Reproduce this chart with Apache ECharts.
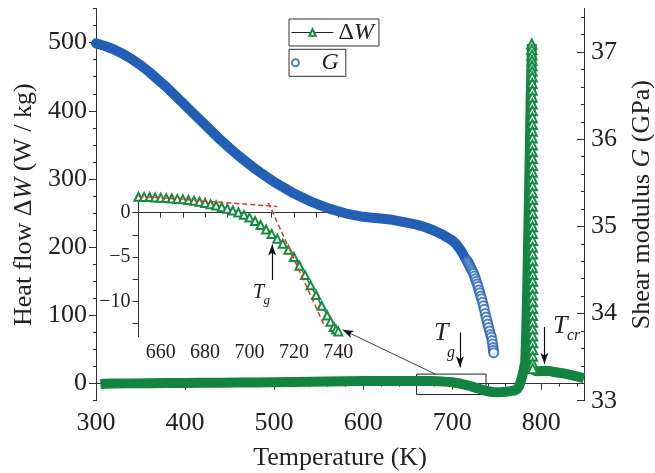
<!DOCTYPE html>
<html>
<head>
<meta charset="utf-8">
<title>Heat flow and shear modulus</title>
<script src="https://cdn.jsdelivr.net/npm/echarts@6/dist/echarts.min.js"></script>
<style>
  html, body { margin: 0; padding: 0; background: #fff; }
  #chart { width: 655px; height: 473px; }
</style>
</head>
<body>
<div id="chart"></div>
<script>
// heat flow ΔW (W/kg) before the crystallisation peak
const preTemp = [305, 310, 320, 340, 360, 380, 400, 420, 440, 460, 480, 500, 520, 540, 560, 580, 600, 620, 640, 660,
  675, 685, 695, 700, 705, 710, 715, 720, 725, 730, 735, 740, 745, 750, 755, 760, 765, 770, 773, 775.5,
  778, 780, 782, 783, 784, 785, 786, 787, 788, 789, 789.4];
const preVal = [-0.5, 0, 0.2, 0.4, 0.6, 0.8, 1.0, 1.2, 1.4, 1.6, 1.8, 2.0, 2.3, 2.6, 3.2, 3.5, 3.8, 4.0, 4.0, 4.0,
  3.8, 3.4, 2.6, 2.0, 1.0, -0.2, -1.8, -3.5, -5.5, -7.5, -9.5, -11.2, -12.3, -12.5, -12.3, -11.8, -11.0, -10.0, -8, -3,
  8, 18, 32, 70, 125, 190, 260, 330, 410, 465, 498];

// the peak itself: points stacked at almost constant temperature
const peakTemp = [789.4, 789.5, 789.6, 789.7, 789.7, 789.8, 789.8, 789.8, 789.9, 789.9, 789.9, 790.0, 790.0, 790.0, 790.0, 790.0,
  790.0, 790.0, 790.1, 790.1, 790.1, 790.1, 790.1, 790.1, 790.1, 790.1, 790.2, 790.2, 790.2, 790.2, 790.2, 790.2,
  790.2, 790.2, 790.2, 790.3, 790.3, 790.3, 790.3, 790.3, 790.3, 790.3, 790.3, 790.3, 790.4, 790.4, 790.4, 790.4, 790.4, 790.4];
const peakVal = [498, 490, 482, 474, 466, 458, 450, 440, 430, 420, 410, 400, 390, 380, 370, 360,
  350, 340, 330, 320, 310, 300, 290, 280, 270, 260, 250, 240, 230, 220, 210, 200,
  190, 180, 170, 160, 150, 140, 130, 120, 110, 100, 90, 80, 70, 60, 50, 40, 30, 22];

// after the peak
const postTemp = [790.5, 795, 800, 805, 810, 815, 820, 825, 830, 835, 840, 845, 848];
const postVal = [20, 18, 18.5, 19, 18.5, 17, 16, 15, 13.5, 12, 10.5, 9, 8];

// shear modulus G (GPa)
const gTemp = [300, 310, 320, 330, 340, 350, 360, 370, 380, 390, 400, 410, 420, 430, 440, 450, 460, 470, 480, 490,
  500, 510, 520, 530, 540, 550, 560, 570, 580, 590, 600, 610, 620, 630, 640, 650, 660, 670, 680, 690,
  700, 705, 710, 715, 716, 717, 718, 719, 720, 721, 722, 723, 724, 725, 726, 727, 728, 729, 730, 731,
  732, 733, 734, 735, 736, 737, 738, 739, 740, 741, 742, 743, 744, 744.7, 745.3, 745.8, 746.2, 746.6];
const gVal = [37.10, 37.07, 37.03, 36.98, 36.92, 36.85, 36.77, 36.68, 36.59, 36.49, 36.39, 36.29, 36.19, 36.09, 35.99, 35.90, 35.81, 35.73, 35.65, 35.58,
  35.51, 35.45, 35.39, 35.34, 35.29, 35.25, 35.21, 35.18, 35.15, 35.13, 35.11, 35.10, 35.09, 35.08, 35.06, 35.04, 35.02, 34.99, 34.95, 34.90,
  34.84, 34.79, 34.72, 34.63, 34.62, 34.60, 34.58, 34.56, 34.54, 34.52, 34.50, 34.48, 34.46, 34.43, 34.40, 34.37, 34.34, 34.31, 34.27, 34.24,
  34.20, 34.17, 34.13, 34.09, 34.05, 34.00, 33.96, 33.92, 33.88, 33.84, 33.80, 33.76, 33.73, 33.69, 33.65, 33.61, 33.58, 33.55];

// inset: glass transition region
const insetTemp = [650, 652.5, 655, 657.5, 660, 662.5, 665, 667.5, 670, 672.5, 675, 677.5, 680, 682.5, 685, 687.5, 690, 692.5, 695, 697.5,
  700, 702.5, 705, 707.5, 710, 712.5, 715, 717.5, 720, 722.5, 725, 727.5, 730, 732.5, 735, 736.5, 738, 739, 740];
const insetVal = [1.8, 1.78, 1.76, 1.72, 1.68, 1.64, 1.60, 1.55, 1.50, 1.42, 1.34, 1.23, 1.10, 0.95, 0.80, 0.62, 0.45, 0.25, 0.02, -0.25,
  -0.56, -0.95, -1.4, -1.9, -2.4, -2.95, -3.5, -4.2, -5.0, -6.0, -7.05, -8.2, -9.3, -10.5, -11.6, -12.3, -12.9, -13.2, -13.4];
// two tangent lines (red dashes)
const fitATemp = [650, 712.5];
const fitAVal = [1.86, 0.7];
const fitBTemp = [708.5, 734];
const fitBVal = [1.1, -12.9];

// ticks
const xTicks = [300, 400, 500, 600, 700, 800];
const xMinor = [320, 340, 360, 380, 420, 440, 460, 480, 520, 540, 560, 580, 620, 640, 660, 680, 720, 740, 760, 780, 820, 840];
const yTicks = [0, 100, 200, 300, 400, 500];
const yMinor = [-25, 25, 50, 75, 125, 150, 175, 225, 250, 275, 325, 350, 375, 425, 450, 475, 525, 550];
const gTicks = [33, 34, 35, 36, 37];
const gMinor = [33.2, 33.4, 33.6, 33.8, 34.2, 34.4, 34.6, 34.8, 35.2, 35.4, 35.6, 35.8, 36.2, 36.4, 36.6, 36.8, 37.2, 37.4];
const insetXTicks = [660, 680, 700, 720, 740];
const insetXMinor = [650, 670, 690, 710, 730];
const insetYTicks = [-10, -5, 0];
const insetYMinor = [-12.5, -7.5, -2.5];

const pairs = (xs, ys) => xs.map((x, i) => [x, ys[i]]);

const FONT = 'Liberation Serif';
const INK = '#222';
const GREEN = '#12843f';
const GREEN_SYM = '#178b42';
const BLUE = '#2360b5';
const RED = '#e5352b';

const txt = (size, extra) => Object.assign({ fontFamily: FONT, fontSize: size, color: INK }, extra || {});
const minus = v => String(v).replace('-', '\u2212');
const axisLine = { show: true, lineStyle: { color: '#333', width: 1 } };

// overlay axis that only draws the short ticks
const minorAxis = extra => Object.assign({
  type: 'value',
  axisLine: { show: false },
  axisLabel: { show: false },
  splitLine: { show: false }
}, extra);

const chart = echarts.init(document.getElementById('chart'));

const option = {
  animation: false,
  backgroundColor: '#fff',
  grid: [
    { left: 96, right: 71, top: 8.5, bottom: 72.3, outerBoundsMode: 'none', containLabel: false },
    { left: 138.5, top: 196.7, width: 199.8, height: 140, outerBoundsMode: 'none', containLabel: false }
  ],
  legend: [
    {
      data: ['ΔW'], left: 289, top: 19, orient: 'vertical', selectedMode: false,
      borderColor: '#333', borderWidth: 1, padding: [1, 5, 1, 2],
      itemWidth: 42, itemHeight: 8,
      lineStyle: { color: '#222', width: 1 },
      formatter: () => '{n|Δ}{i|W}',
      textStyle: txt(24, { lineHeight: 25, rich: { n: txt(24), i: txt(24, { fontStyle: 'italic' }) } })
    },
    {
      data: ['G'], left: 289, top: 49.3, orient: 'vertical', selectedMode: false,
      borderColor: '#333', borderWidth: 1, padding: [1, 7, 1, 2],
      itemWidth: 42, itemHeight: 7,
      formatter: () => '{i|G}',
      textStyle: txt(24, { lineHeight: 25, rich: { i: txt(24, { fontStyle: 'italic' }) } })
    }
  ],
  xAxis: [
    {
      type: 'value', gridIndex: 0, position: 'bottom', min: 300, max: 848,
      axisLine: axisLine,
      axisTick: { show: true, customValues: xTicks, length: 6, lineStyle: { color: '#333' } },
      axisLabel: { customValues: xTicks, margin: 9, ...txt(26) },
      splitLine: { show: false },
      name: 'Temperature (K)', nameLocation: 'middle', nameGap: 44,
      nameTextStyle: txt(26)
    },
    minorAxis({ gridIndex: 0, position: 'bottom', min: 300, max: 848,
      axisTick: { show: true, customValues: xMinor, length: 3, lineStyle: { color: '#333' } } }),
    {
      type: 'value', gridIndex: 1, position: 'bottom', min: 650, max: 740,
      axisLine: axisLine,
      axisTick: { show: true, customValues: insetXTicks.concat(insetXMinor), length: 5, lineStyle: { color: '#333' } },
      axisLabel: { customValues: insetXTicks, margin: 6, ...txt(20) },
      splitLine: { show: false }
    }
  ],
  yAxis: [
    {
      type: 'value', gridIndex: 0, position: 'left', min: -25, max: 550,
      axisLine: axisLine,
      axisTick: { show: true, customValues: yTicks, length: 7, lineStyle: { color: '#333' } },
      axisLabel: { customValues: yTicks, margin: 9, ...txt(26) },
      splitLine: { show: false },
      name: '{a|Heat flow Δ}{b|W}{a| (W / kg)}', nameLocation: 'middle', nameGap: 59, nameRotate: 90,
      nameTextStyle: txt(26, { rich: { a: txt(26), b: txt(26, { fontStyle: 'italic' }) } })
    },
    {
      type: 'value', gridIndex: 0, position: 'right', min: 33, max: 37.5,
      axisLine: axisLine,
      axisTick: { show: true, inside: true, customValues: gTicks, length: 7, lineStyle: { color: '#333' } },
      axisLabel: { customValues: gTicks, margin: 7, ...txt(26) },
      splitLine: { show: false },
      name: '{a|Shear modulus }{b|G}{a| (GPa)}', nameLocation: 'middle', nameGap: 45, nameRotate: 90,
      nameTextStyle: txt(26, { rich: { a: txt(26), b: txt(26, { fontStyle: 'italic' }) } })
    },
    minorAxis({ gridIndex: 0, position: 'left', min: -25, max: 550,
      axisTick: { show: true, customValues: yMinor, length: 3, lineStyle: { color: '#333' } } }),
    minorAxis({ gridIndex: 0, position: 'right', min: 33, max: 37.5,
      axisTick: { show: true, inside: true, customValues: gMinor, length: 3, lineStyle: { color: '#333' } } }),
    {
      type: 'value', gridIndex: 1, position: 'left', min: -14, max: 1.8,
      axisLine: axisLine,
      axisTick: { show: true, customValues: insetYTicks.concat(insetYMinor), length: 6, lineStyle: { color: '#333' } },
      axisLabel: { customValues: insetYTicks, margin: 8, formatter: minus, ...txt(20) },
      splitLine: { show: false }
    }
  ],
  series: [
    // peak points first so the legend takes its triangle
    {
      name: 'ΔW', type: 'line', xAxisIndex: 0, yAxisIndex: 0, z: 4,
      data: pairs(peakTemp, peakVal),
      symbol: 'emptyTriangle', symbolSize: 9,
      itemStyle: { color: GREEN_SYM, borderWidth: 1.5 },
      lineStyle: { color: GREEN_SYM, width: 2.5 }
    },
    {
      name: 'ΔW band', type: 'line', xAxisIndex: 0, yAxisIndex: 0, z: 3,
      data: pairs(preTemp, preVal), showSymbol: false,
      lineStyle: { color: GREEN, width: 10, join: 'round' },
      markArea: {
        silent: true, label: { show: false },
        itemStyle: { color: 'rgba(0,0,0,0)', borderColor: '#222', borderWidth: 1 },
        data: [[{ coord: [660, 14] }, { coord: [738, -16] }]]
      },
      markLine: {
        silent: true, symbol: ['none', 'arrow'], symbolSize: [6, 11], label: { show: false },
        lineStyle: { color: '#111', width: 1.2, type: 'solid' },
        data: [
          [{ coord: [708.7, 75] }, { coord: [708.7, 24] }],
          [{ coord: [803.5, 83] }, { coord: [803.5, 29] }],
          [{ coord: [681, 14], lineStyle: { width: 0.8 } }, { coord: [577, 79] }]
        ]
      }
    },
    {
      name: 'ΔW tail', type: 'line', xAxisIndex: 0, yAxisIndex: 0, z: 3,
      data: pairs(postTemp, postVal), showSymbol: false,
      lineStyle: { color: GREEN, width: 10, join: 'round' }
    },
    {
      // solid band where the circles overlap
      name: 'G band', type: 'line', xAxisIndex: 0, yAxisIndex: 1, z: 3,
      data: pairs(gTemp, gVal).filter(p => p[0] <= 718), showSymbol: false,
      lineStyle: { color: BLUE, width: 10, cap: 'round', join: 'round' }
    },
    {
      name: 'G', type: 'scatter', xAxisIndex: 0, yAxisIndex: 1, z: 4,
      data: pairs(gTemp, gVal).filter(p => p[0] >= 717),
      symbol: 'emptyCircle', symbolSize: 9,
      itemStyle: { color: BLUE, borderWidth: 1.1 }
    },
    // inset
    {
      name: 'inset', type: 'line', xAxisIndex: 2, yAxisIndex: 4, z: 5,
      data: pairs(insetTemp, insetVal),
      symbol: 'emptyTriangle', symbolSize: 8,
      itemStyle: { color: GREEN_SYM, borderWidth: 1.3 },
      lineStyle: { color: GREEN_SYM, width: 1.5 },
      markLine: {
        silent: true, symbol: ['none', 'arrow'], symbolSize: [6, 11], label: { show: false },
        lineStyle: { color: '#111', width: 1.2, type: 'solid' },
        data: [[{ coord: [710.2, -7.6] }, { coord: [710.2, -3.6] }]]
      }
    },
    {
      name: 'fit A', type: 'line', xAxisIndex: 2, yAxisIndex: 4, z: 6,
      data: pairs(fitATemp, fitAVal), showSymbol: false,
      lineStyle: { color: RED, width: 1.5, type: [5, 3] }
    },
    {
      name: 'fit B', type: 'line', xAxisIndex: 2, yAxisIndex: 4, z: 6,
      data: pairs(fitBTemp, fitBVal), showSymbol: false,
      lineStyle: { color: RED, width: 1.5, type: [5, 3] }
    }
  ],
  graphic: [
    { type: 'text', x: 434, y: 333, style: { text: 'T', font: 'italic 26px "Liberation Serif"', fill: INK, verticalAlign: 'middle' } },
    { type: 'text', x: 447, y: 353, style: { text: 'g', font: 'italic 16px "Liberation Serif"', fill: INK, verticalAlign: 'middle' } },
    { type: 'text', x: 553, y: 326, style: { text: 'T', font: 'italic 26px "Liberation Serif"', fill: INK, verticalAlign: 'middle' } },
    { type: 'text', x: 567, y: 336, style: { text: 'cr', font: 'italic 16px "Liberation Serif"', fill: INK, verticalAlign: 'middle' } },
    { type: 'text', x: 253, y: 293, style: { text: 'T', font: 'italic 20px "Liberation Serif"', fill: INK, verticalAlign: 'middle' } },
    { type: 'text', x: 263.5, y: 301, style: { text: 'g', font: 'italic 13px "Liberation Serif"', fill: INK, verticalAlign: 'middle' } }
  ]
};

chart.setOption(option);
</script>
</body>
</html>
